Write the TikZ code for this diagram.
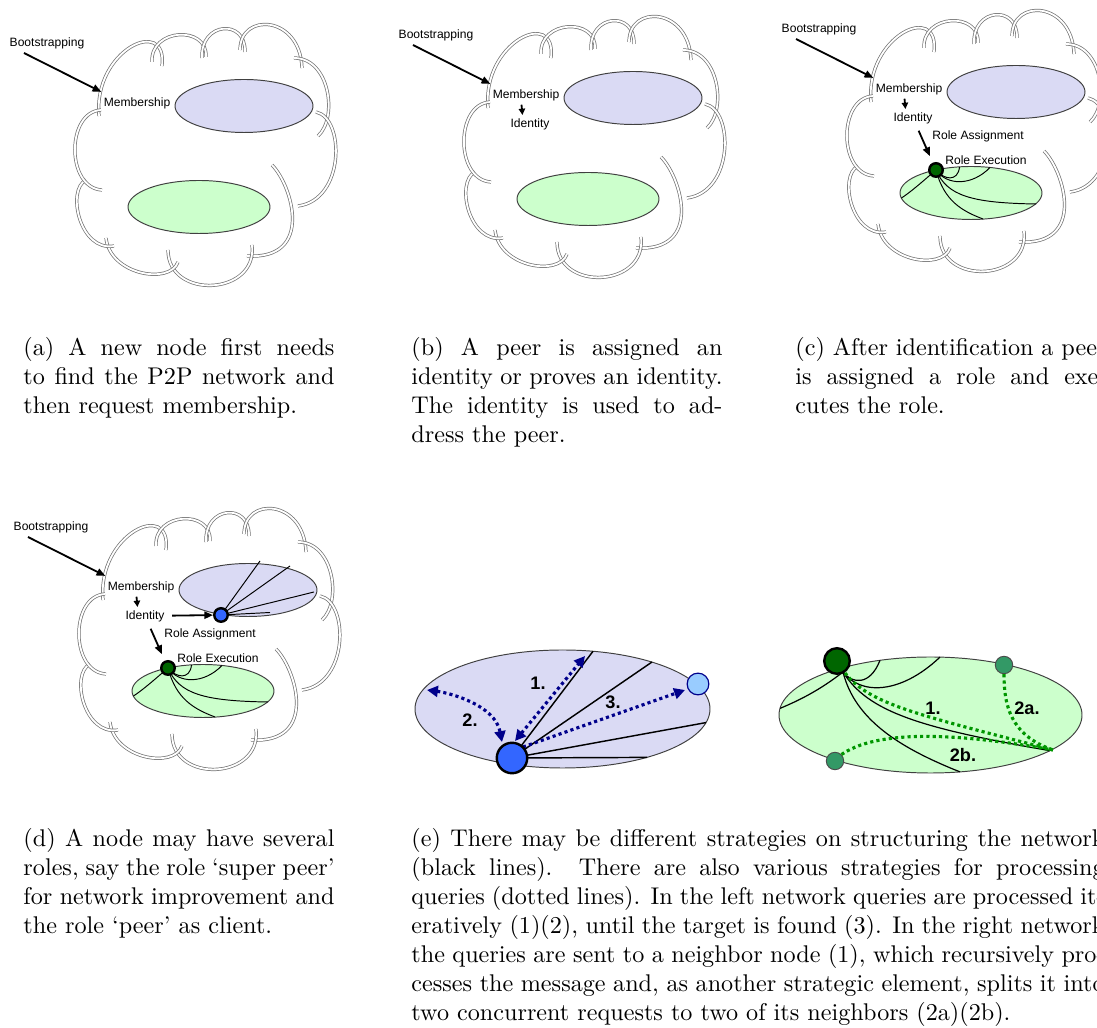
\documentclass[tikz,border=0pt]{standalone}
\usepackage{fontspec}
\newfontfamily\lab{Liberation Sans}
\usetikzlibrary{arrows.meta,calc}
\definecolor{lav}{RGB}{218,218,244}
\definecolor{mint}{RGB}{204,255,204}
\definecolor{nodeblue}{RGB}{51,102,255}
\definecolor{lightblue}{RGB}{153,204,255}
\definecolor{darkgreen}{RGB}{0,102,0}
\definecolor{peergreen}{RGB}{51,153,102}
\definecolor{qnavy}{RGB}{0,0,139}
\definecolor{qgreen}{RGB}{0,150,0}

\tikzset{
  cloudline/.style={draw=black!55, double=white, double distance=0.75pt, line width=0.3pt},
  net/.style={draw=black!75, line width=0.4pt},
  link/.style={draw=black, line width=0.4pt},
  lbl/.style={font=\lab\fontsize{5}{6}\selectfont, inner sep=0pt},
  num/.style={font=\lab\bfseries\fontsize{7.5}{9}\selectfont, inner sep=0pt},
  captext/.style={font=\fontsize{10}{12}\selectfont, inner sep=0pt, anchor=base west},
  flow/.style={-{Triangle[length=3.6pt,width=3pt]}, line width=0.75pt},
  smallflow/.style={-{Triangle[length=2.6pt,width=2.6pt]}, line width=0.75pt},
  rolenode/.style={circle, draw=black, line width=1pt, inner sep=0pt},
  query/.style={qnavy, line width=1.3pt, dash pattern=on 1.3pt off 1.3pt},
  qtip/.style={{Triangle[length=4.5pt,width=4.5pt]}-{Triangle[length=4.5pt,width=4.5pt]}},
  gquery/.style={qgreen, line width=1.3pt, dash pattern=on 1.3pt off 1.3pt},
  % the cloud: one bulging lobe per segment, each lobe overlapping the next
  cloudshape/.pic={
    \foreach \px/\py/\ax/\ay/\bx/\by/\qx/\qy in {
        99/116/93/50/168/15/162/66,
        152/62/150/28/208/25/206/57,
        202/58/200/22/246/18/245/52,
        240/50/240/12/300/15/302/68,
        294/58/330/58/338/118/318/136,
        316/112/345/118/345/200/298/206,
        272/165/292/185/315/260/247/256,
        252/245/258/296/168/300/168/250,
        178/262/170/285/110/275/106/238,
        114/246/80/252/66/190/86/180,
        102/190/66/188/66/112/101/110}
      \draw[cloudline] (\px,\py) .. controls (\ax,\ay) and (\bx,\by) .. (\qx,\qy);
  }
}

% cloud, the two overlays and the first step of a panel
\newcommand\panelbase[1]{%
  \pic at (0,0) {cloudshape};
  \draw[net, fill=lav] (244,106) ellipse[x radius=69, y radius=26.5];
  \draw[net, fill=mint] (199,207) ellipse[x radius=71, y radius=26.5];
  \node[lbl] (#1-boot) at (47,43) {Bootstrapping};
  \node[lbl] (#1-memb) at (137,103) {Membership};
  \coordinate (#1-bs) at (24,53);
  \draw[flow] (#1-bs) -- ([shift={(-2,-5)}]#1-memb.north west);
}
\newcommand\identstep[1]{%
  \node[lbl] (#1-ident) at (141,132) {Identity};
  \draw[smallflow, shorten <=1.5pt, shorten >=1.2pt] ([xshift=-2]#1-memb.south) -- ([xshift=-3]#1-ident.north);
}
% structured overlay with its role node
\newcommand\greenrole[1]{%
  \coordinate (#1-g1) at (187.5,181);
  \coordinate (#1-g2) at (218,181.5);
  \coordinate (#1-g3) at (129.5,212);
  \coordinate (#1-g4) at (264,218);
  \coordinate (#1-g5) at (211,233);
  \coordinate (#1-gc) at (164,184);
  \draw[link] (#1-gc) .. controls (172,194) and (186,196) .. (#1-g1);
  \draw[link] (#1-gc) .. controls (175,200) and (200,200) .. (#1-g2);
  \draw[link] (#1-gc) .. controls (150,196) and (140,205) .. (#1-g3);
  \draw[link] (#1-gc) .. controls (175,210) and (200,217) .. (#1-g4);
  \draw[link] (#1-gc) .. controls (172,215) and (190,225) .. (#1-g5);
  \node[rolenode, fill=darkgreen, minimum size=5.6pt] (#1-gnode) at (#1-gc) {};
  \node[lbl] (#1-rass) at (206,150) {Role Assignment};
  \node[lbl] (#1-rexe) at (214,174) {Role Execution};
  \draw[flow, shorten <=3pt, shorten >=3pt] (#1-ident) -- (#1-gnode);
}

\begin{document}
\begin{tikzpicture}[x=0.41379pt, y=-0.41379pt]
\useasboundingbox (0,0) rectangle (1097,1028);
\clip (0,0) rectangle (1097,1028);

% (a)
\begin{scope}
  \panelbase{a}
\end{scope}

% (b)
\begin{scope}[shift={(389,-8)}]
  \panelbase{b}
  \identstep{b}
\end{scope}

% (c)
\begin{scope}[shift={(772,-14)}]
  \panelbase{c}
  \identstep{c}
  \greenrole{c}
\end{scope}

% (d)
\begin{scope}[shift={(4,484)}]
  \panelbase{d}
  \identstep{d}
  \coordinate (d-bc) at (217,131);
  \coordinate (d-b1) at (256,77);
  \coordinate (d-b2) at (286,82);
  \coordinate (d-b3) at (310,108);
  \coordinate (d-b4) at (266,128.5);
  \foreach \e in {d-b1,d-b2,d-b3,d-b4} \draw[link] (d-bc) -- (\e);
  \node[rolenode, fill=nodeblue, minimum size=5.6pt] (d-bnode) at (d-bc) {};
  \greenrole{d}
  \draw[flow, shorten <=3pt] (d-ident) -- (d-bnode);
\end{scope}

% (e) left: iterative processing
\draw[net, fill=lav] (562.5,709) ellipse[x radius=147.5, y radius=59];
\coordinate (e-bc) at (512,758);
\coordinate (e-l1) at (593,651.3);
\coordinate (e-l2) at (652,662);
\coordinate (e-l3) at (706,722.6);
\coordinate (e-l4) at (647,757.4);
\foreach \e in {e-l1,e-l2,e-l3,e-l4} \draw[link, line width=0.6pt] (e-bc) -- (\e);
\node[circle, draw=qnavy, line width=0.5pt, fill=lightblue, minimum width=9pt, minimum height=8.2pt, inner sep=0pt] (e-target) at (698,684) {};
\coordinate (e-q1s) at (515,741);
\coordinate (e-q1e) at (585,656);
\coordinate (e-q2s) at (427,690);
\coordinate (e-q2e) at (502,742);
\coordinate (e-q3s) at (523,747);
\draw[query, qtip] (e-q1s) -- (e-q1e);
\draw[query, qtip] (e-q2s) .. controls (450,693) and (495,705) .. (e-q2e);
\draw[query, -{Triangle[length=4.5pt,width=4.5pt]}] (e-q3s) -- ([shift={(-13,6)}]e-target.center);
\node[rolenode, fill=nodeblue, minimum size=12.6pt] (e-bnode) at (e-bc) {};
\node[num] (e-n1) at (538,683) {1.};
\node[num] (e-n2) at (470,720) {2.};
\node[num] (e-n3) at (613,702) {3.};

% (e) right: recursive processing
\draw[net, fill=mint] (930.5,715) ellipse[x radius=151.5, y radius=58];
\coordinate (f-gc) at (843,672);
\coordinate (f-k1) at (880,660.3);
\coordinate (f-k2) at (940,657.1);
\coordinate (f-k3) at (780,708.4);
\coordinate (f-k4) at (1050,750.7);
\coordinate (f-k5) at (960,771.9);
\draw[link, line width=0.5pt] (f-gc) .. controls (852,684) and (870,686) .. (f-k1);
\draw[link, line width=0.5pt] (f-gc) .. controls (860,695) and (900,695) .. (f-k2);
\draw[link, line width=0.5pt] (f-gc) .. controls (820,690) and (800,700) .. (f-k3);
\draw[link, line width=0.5pt] (f-gc) .. controls (868,712) and (920,728) .. (f-k4);
\draw[link, line width=0.5pt] (f-gc) .. controls (855,720) and (900,748) .. (f-k5);
\node[circle, draw=black!70, line width=0.4pt, fill=peergreen, minimum size=7.2pt, inner sep=0pt] (f-peerA) at (1004,665) {};
\node[circle, draw=black!70, line width=0.4pt, fill=peergreen, minimum size=7.2pt, inner sep=0pt] (f-peerB) at (835,761) {};
\coordinate (f-meet) at (1053,750);
\draw[gquery] (845,673) .. controls (870,705) and (920,715) .. (f-meet);
\draw[gquery] (f-peerA.south) .. controls (1004,705) and (1010,735) .. (f-meet);
\draw[gquery] (f-peerB.north east) .. controls (870,735) and (930,728) .. (f-meet);
\node[rolenode, fill=darkgreen, minimum size=10.6pt] (f-gnode) at (837,661) {};
\node[num] (f-n1) at (933,708) {1.};
\node[num] (f-n2a) at (1027,708) {2a.};
\node[num] (f-n2b) at (963,755) {2b.};

% captions
\node[captext] (capa1) at (23,356) {\makebox[128.7pt][s]{(a) A new node first needs}};
\node[captext] (capa2) at (23,385) {\makebox[128.7pt][s]{to find the P2P network and}};
\node[captext] (capa3) at (23,414) {then request membership.};

\node[captext] (capb1) at (411,356) {\makebox[128.7pt][s]{(b) A peer is assigned an}};
\node[captext] (capb2) at (411,385) {\makebox[128.7pt][s]{identity or proves an identity.}};
\node[captext] (capb3) at (411,414) {\makebox[128.7pt][s]{The identity is used to ad-}};
\node[captext] (capb4) at (411,443) {dress the peer.};

\node[captext] (capc1) at (795,356) {\makebox[128.7pt][s]{(c) After identification a peer}};
\node[captext] (capc2) at (795,385) {\makebox[128.7pt][s]{is assigned a role and exe-}};
\node[captext] (capc3) at (795,414) {cutes the role.};

\node[captext] (capd1) at (23,847) {\makebox[128.7pt][s]{(d) A node may have several}};
\node[captext] (capd2) at (23,876) {\makebox[128.7pt][s]{roles, say the role `super peer'}};
\node[captext] (capd3) at (23,905) {\makebox[128.7pt][s]{for network improvement and}};
\node[captext] (capd4) at (23,934) {the role `peer' as client.};

\node[captext] (cape1) at (411,847) {\makebox[286.8pt][s]{(e) There may be different strategies on structuring the network}};
\node[captext] (cape2) at (411,876) {\makebox[286.8pt][s]{(black lines).  There are also various strategies for processing}};
\node[captext] (cape3) at (411,905) {\makebox[286.8pt][s]{queries (dotted lines). In the left network queries are processed it-}};
\node[captext] (cape4) at (411,934) {\makebox[286.8pt][s]{eratively (1)(2), until the target is found (3). In the right network}};
\node[captext] (cape5) at (411,963) {\makebox[286.8pt][s]{the queries are sent to a neighbor node (1), which recursively pro-}};
\node[captext] (cape6) at (411,992) {\makebox[286.8pt][s]{cesses the message and, as another strategic element, splits it into}};
\node[captext] (cape7) at (411,1021) {two concurrent requests to two of its neighbors (2a)(2b).};
\end{tikzpicture}
\end{document}
